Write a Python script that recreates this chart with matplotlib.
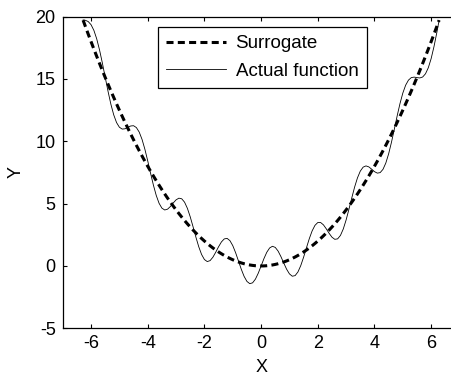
import matplotlib
matplotlib.use('Agg')
import matplotlib.pyplot as plt

plt.rcParams['font.family'] = ['Liberation Sans', 'DejaVu Sans']
plt.rcParams['axes.unicode_minus'] = False

# x positions of the sampled curve
x_vals = [-6.28, -6.2, -6.1, -6.0, -5.9, -5.8, -5.7, -5.6, -5.5, -5.4, -5.3,
          -5.2, -5.1, -5.0, -4.9, -4.8, -4.7, -4.6, -4.5, -4.4, -4.3, -4.2,
          -4.1, -4.0, -3.9, -3.8, -3.7, -3.6, -3.5, -3.4, -3.3, -3.2, -3.1,
          -3.0, -2.9, -2.8, -2.7, -2.6, -2.5, -2.4, -2.3, -2.2, -2.1, -2.0,
          -1.9, -1.8, -1.7, -1.6, -1.5, -1.4, -1.3, -1.2, -1.1, -1.0, -0.9,
          -0.8, -0.7, -0.6, -0.5, -0.4, -0.3, -0.2, -0.1, 0.0,
          0.1, 0.2, 0.3, 0.4, 0.5, 0.6, 0.7, 0.8, 0.9, 1.0, 1.1, 1.2, 1.3,
          1.4, 1.5, 1.6, 1.7, 1.8, 1.9, 2.0, 2.1, 2.2, 2.3, 2.4, 2.5, 2.6,
          2.7, 2.8, 2.9, 3.0, 3.1, 3.2, 3.3, 3.4, 3.5, 3.6, 3.7, 3.8, 3.9,
          4.0, 4.1, 4.2, 4.3, 4.4, 4.5, 4.6, 4.7, 4.8, 4.9, 5.0, 5.1, 5.2,
          5.3, 5.4, 5.5, 5.6, 5.7, 5.8, 5.9, 6.0, 6.1, 6.2, 6.28]

# actual (wiggly) function
actual_vals = [19.738, 19.710, 19.608, 19.358, 18.904, 18.222, 17.330, 16.276,
               15.138, 14.008, 12.978, 12.127, 11.505, 11.131, 10.982, 11.005,
               11.119, 11.232, 11.252, 11.103, 10.740, 10.151, 9.362, 8.432,
               7.443, 6.490, 5.662, 5.031, 4.639, 4.491, 4.557, 4.773, 5.053,
               5.305, 5.439, 5.389, 5.116, 4.622, 3.941, 3.141, 2.311, 1.543,
               0.923, 0.516, 0.353, 0.429, 0.704, 1.105, 1.544, 1.927, 2.170,
               2.214, 2.032, 1.635, 1.069, 0.408, -0.258, -0.833, -1.239,
               -1.419, -1.353, -1.056, -0.579, 0.0,
               0.589, 1.096, 1.443, 1.579, 1.489, 1.193, 0.748, 0.232, -0.259,
               -0.635, -0.822, -0.774, -0.480, 0.033, 0.706, 1.455, 2.186,
               2.811, 3.257, 3.484, 3.487, 3.297, 2.979, 2.619, 2.309, 2.138,
               2.174, 2.451, 2.971, 3.695, 4.557, 5.467, 6.333, 7.069, 7.611,
               7.929, 8.028, 7.950, 7.767, 7.568, 7.448, 7.489, 7.750, 8.257,
               8.998, 9.928, 10.971, 12.035, 13.028, 13.869, 14.505, 14.913,
               15.112, 15.152, 15.112, 15.084, 15.160, 15.418, 15.906, 16.642,
               17.602, 18.730, 19.700]

# smooth surrogate
surrogate_vals = [19.719, 19.220, 18.605, 18.000, 17.405, 16.820, 16.245, 15.680,
                  15.125, 14.580, 14.045, 13.520, 13.005, 12.500, 12.005, 11.520,
                  11.045, 10.580, 10.125, 9.680, 9.245, 8.820, 8.405, 8.000,
                  7.605, 7.220, 6.845, 6.480, 6.125, 5.780, 5.445, 5.120, 4.805,
                  4.500, 4.205, 3.920, 3.645, 3.380, 3.125, 2.880, 2.645, 2.420,
                  2.205, 2.000, 1.805, 1.620, 1.445, 1.280, 1.125, 0.980, 0.845,
                  0.720, 0.605, 0.500, 0.405, 0.320, 0.245, 0.180, 0.125, 0.080,
                  0.045, 0.020, 0.005, 0.0,
                  0.005, 0.020, 0.045, 0.080, 0.125, 0.180, 0.245, 0.320, 0.405,
                  0.500, 0.605, 0.720, 0.845, 0.980, 1.125, 1.280, 1.445, 1.620,
                  1.805, 2.000, 2.205, 2.420, 2.645, 2.880, 3.125, 3.380, 3.645,
                  3.920, 4.205, 4.500, 4.805, 5.120, 5.445, 5.780, 6.125, 6.480,
                  6.845, 7.220, 7.605, 8.000, 8.405, 8.820, 9.245, 9.680, 10.125,
                  10.580, 11.045, 11.520, 12.005, 12.500, 13.005, 13.520, 14.045,
                  14.580, 15.125, 15.680, 16.245, 16.820, 17.405, 18.000, 18.605,
                  19.220, 19.719]

x_ticks = [-6, -4, -2, 0, 2, 4, 6]
y_ticks = [-5, 0, 5, 10, 15, 20]

fig = plt.figure(figsize=(4.52, 3.79), dpi=100)
# axes run past the right edge of the picture, as in the cropped original
ax = fig.add_axes([0.1387, 0.1338, 0.8779, 0.8222])

ax.plot(x_vals, surrogate_vals, color='black', linestyle='--', linewidth=2.2,
        dashes=(2.3, 1.4), label='Surrogate')
ax.plot(x_vals, actual_vals, color='black', linewidth=0.6, label='Actual function')

ax.set_xlim(-7, 7)
ax.set_ylim(-5, 20)
ax.set_xticks(x_ticks)
ax.set_yticks(y_ticks)

ax.tick_params(direction='in', length=3, width=0.8, labelsize=13, pad=5,
               top=True, right=True)
for s in ax.spines.values():
    s.set_linewidth(0.9)

ax.set_xlabel('X', fontsize=13, labelpad=5)
ax.set_ylabel('Y', fontsize=13, labelpad=8)

leg = ax.legend(loc='upper left', bbox_to_anchor=(0.2394, 0.968), borderaxespad=0,
                fontsize=13.5, handlelength=3.2, handletextpad=0.5, labelspacing=0.55,
                borderpad=0.45, fancybox=False, framealpha=1, edgecolor='black')
leg.get_frame().set_linewidth(0.9)

plt.savefig('out.png', dpi=100)
